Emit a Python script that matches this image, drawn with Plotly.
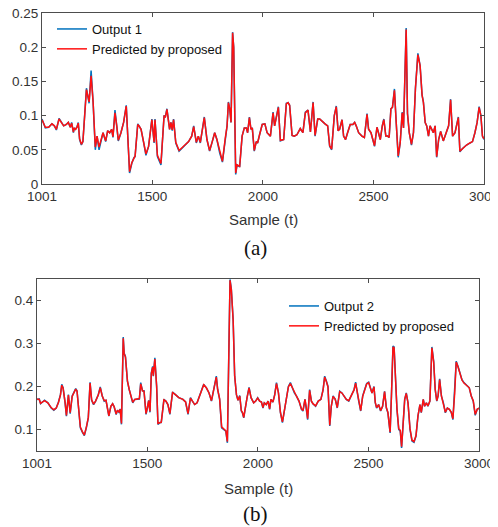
import plotly.graph_objects as go

# ---------------- data ----------------
sample_a = [1001,1016,1031,1046,1057,1066,1078,1088,1099,1111,
            1120,1129,1135,1143,1147,1153,1159,1165,1171,1179,
            1186,1202,1206,1214,1223,1232,1242,1250,1259,1268,
            1277,1289,1298,1307,1316,1322,1331,1339,1346,1358,
            1370,1382,1388,1397,1407,1416,1422,1434,1440,1449,
            1461,1471,1483,1498,1508,1512,1523,1530,1539,1553,
            1559,1566,1572,1578,1584,1590,1596,1606,1621,1642,
            1664,1678,1687,1699,1708,1717,1726,1735,1747,1759,
            1771,1782,1792,1805,1817,1829,1838,1844,1850,1856,
            1863,1868,1877,1883,1895,1906,1916,1925,1931,1939,
            1946,1952,1961,1970,1976,1985,1997,2009,2019,2034,
            2046,2053,2070,2079,2094,2106,2114,2121,2132,2142,
            2154,2169,2181,2192,2204,2215,2227,2236,2248,2257,
            2266,2281,2293,2302,2311,2323,2332,2340,2347,2358,
            2365,2374,2383,2395,2407,2415,2422,2433,2448,2459,
            2471,2478,2489,2498,2505,2516,2525,2531,2540,2547,
            2556,2564,2571,2579,2586,2595,2603,2612,2621,2630,
            2636,2648,2654,2662,2672,2681,2690,2701,2711,2720,
            2726,2734,2741,2749,2756,2764,2771,2779,2786,2795,
            2804,2816,2831,2840,2849,2858,2869,2876,2884,2891,
            2903,2921,2936,2948,2959,2969,2978,2986,2993,3000]

output1 = [0.095,0.082,0.083,0.088,0.085,0.079,0.096,0.09,0.085,0.087,
           0.09,0.083,0.09,0.075,0.082,0.08,0.083,0.09,0.065,0.057,
           0.062,0.14,0.132,0.118,0.166,0.12,0.05,0.07,0.05,0.065,
           0.075,0.062,0.078,0.075,0.08,0.068,0.108,0.085,0.063,0.075,
           0.09,0.115,0.07,0.016,0.03,0.038,0.04,0.088,0.085,0.08,
           0.06,0.042,0.055,0.095,0.06,0.095,0.04,0.035,0.028,0.1,
           0.098,0.11,0.095,0.08,0.09,0.078,0.095,0.06,0.048,0.055,
           0.062,0.07,0.085,0.06,0.07,0.06,0.078,0.098,0.065,0.048,
           0.062,0.075,0.065,0.045,0.032,0.065,0.085,0.12,0.11,0.09,
           0.222,0.2,0.014,0.028,0.025,0.07,0.082,0.082,0.075,0.098,
           0.08,0.082,0.048,0.062,0.06,0.072,0.087,0.088,0.075,0.07,
           0.105,0.085,0.113,0.063,0.065,0.118,0.119,0.115,0.071,0.07,
           0.072,0.081,0.075,0.105,0.108,0.076,0.12,0.07,0.095,0.095,
           0.092,0.088,0.085,0.055,0.05,0.1,0.114,0.078,0.08,0.094,
           0.07,0.065,0.075,0.087,0.087,0.09,0.085,0.075,0.07,0.068,
           0.103,0.08,0.075,0.065,0.055,0.083,0.07,0.065,0.085,0.095,
           0.07,0.07,0.068,0.11,0.112,0.139,0.09,0.039,0.06,0.105,
           0.082,0.228,0.103,0.075,0.057,0.075,0.14,0.191,0.173,0.13,
           0.12,0.09,0.085,0.07,0.085,0.08,0.075,0.085,0.039,0.065,
           0.077,0.063,0.075,0.085,0.124,0.07,0.075,0.085,0.098,0.047,
           0.052,0.057,0.06,0.062,0.075,0.09,0.113,0.1,0.07,0.065]

predicted1 = [0.094,0.083,0.083,0.088,0.085,0.08,0.095,0.09,0.085,0.087,
              0.09,0.083,0.089,0.076,0.082,0.08,0.083,0.089,0.066,0.058,
              0.062,0.138,0.131,0.12,0.158,0.12,0.054,0.07,0.054,0.065,
              0.075,0.063,0.078,0.075,0.08,0.069,0.104,0.085,0.064,0.075,
              0.09,0.114,0.071,0.018,0.031,0.038,0.041,0.087,0.085,0.08,
              0.061,0.044,0.055,0.094,0.061,0.094,0.042,0.036,0.03,0.099,
              0.098,0.109,0.095,0.08,0.09,0.079,0.094,0.061,0.049,0.055,
              0.062,0.07,0.084,0.061,0.07,0.061,0.078,0.097,0.065,0.049,
              0.062,0.075,0.065,0.046,0.033,0.065,0.085,0.119,0.11,0.09,
              0.221,0.2,0.016,0.028,0.026,0.07,0.082,0.082,0.075,0.097,
              0.08,0.082,0.049,0.062,0.06,0.072,0.087,0.088,0.075,0.07,
              0.104,0.085,0.112,0.064,0.065,0.117,0.119,0.115,0.071,0.07,
              0.072,0.081,0.075,0.104,0.108,0.076,0.119,0.071,0.095,0.095,
              0.092,0.088,0.085,0.056,0.051,0.1,0.113,0.078,0.08,0.094,
              0.07,0.065,0.075,0.087,0.087,0.09,0.085,0.075,0.07,0.068,
              0.102,0.08,0.075,0.065,0.056,0.083,0.07,0.065,0.085,0.094,
              0.07,0.07,0.068,0.11,0.112,0.137,0.09,0.041,0.06,0.104,
              0.082,0.226,0.103,0.075,0.058,0.075,0.14,0.189,0.173,0.13,
              0.119,0.09,0.085,0.07,0.085,0.08,0.075,0.085,0.04,0.065,
              0.077,0.063,0.075,0.085,0.123,0.07,0.075,0.085,0.097,0.048,
              0.052,0.057,0.06,0.062,0.075,0.09,0.112,0.1,0.07,0.066]

sample_b = [1001,1011,1017,1028,1035,1050,1065,1077,1088,1098,
            1107,1113,1119,1128,1134,1143,1151,1160,1167,1176,
            1182,1191,1197,1206,1215,1224,1233,1241,1248,1257,
            1266,1278,1287,1296,1305,1313,1320,1326,1335,1343,
            1350,1359,1365,1373,1377,1383,1391,1395,1401,1410,
            1418,1425,1434,1443,1455,1464,1470,1478,1485,1494,
            1500,1506,1512,1518,1524,1527,1534,1542,1548,1557,
            1563,1575,1584,1593,1602,1608,1614,1627,1642,1661,
            1673,1684,1695,1704,1714,1725,1737,1746,1755,1767,
            1779,1790,1797,1806,1812,1818,1827,1836,1845,1855,
            1862,1870,1874,1880,1888,1895,1903,1910,1918,1925,
            1930,1936,1942,1951,1960,1969,1981,1990,1999,2008,
            2016,2023,2029,2038,2046,2053,2059,2068,2076,2084,
            2093,2102,2111,2120,2129,2138,2147,2156,2165,2174,
            2186,2197,2204,2213,2219,2225,2234,2242,2249,2261,
            2273,2285,2295,2302,2310,2317,2325,2332,2340,2350,
            2359,2370,2380,2389,2400,2411,2423,2435,2442,2448,
            2456,2465,2474,2483,2492,2501,2507,2516,2525,2531,
            2537,2546,2555,2564,2573,2581,2588,2593,2598,2604,
            2611,2616,2622,2629,2637,2644,2650,2658,2664,2671,
            2679,2688,2697,2706,2715,2724,2733,2739,2748,2754,
            2762,2769,2778,2787,2795,2802,2809,2815,2822,2830,
            2839,2848,2857,2866,2875,2882,2890,2897,2905,2914,
            2923,2932,2944,2956,2965,2974,2983,2992,3000]

output2 = [0.17,0.171,0.16,0.164,0.168,0.162,0.15,0.145,0.15,0.164,
           0.181,0.205,0.197,0.162,0.131,0.181,0.137,0.178,0.185,0.195,
           0.19,0.147,0.104,0.094,0.086,0.104,0.127,0.21,0.168,0.158,
           0.166,0.181,0.199,0.178,0.166,0.168,0.15,0.131,0.154,0.16,
           0.153,0.135,0.145,0.139,0.148,0.112,0.315,0.278,0.27,0.212,
           0.193,0.181,0.162,0.17,0.171,0.171,0.209,0.19,0.19,0.135,
           0.15,0.168,0.14,0.232,0.247,0.224,0.267,0.2,0.112,0.116,
           0.116,0.17,0.166,0.158,0.135,0.162,0.187,0.181,0.174,0.17,
           0.164,0.135,0.174,0.166,0.158,0.162,0.178,0.193,0.205,0.197,
           0.185,0.166,0.185,0.21,0.224,0.193,0.17,0.104,0.1,0.096,
           0.069,0.302,0.449,0.426,0.356,0.224,0.181,0.168,0.179,0.143,
           0.139,0.127,0.15,0.174,0.198,0.174,0.162,0.166,0.174,0.166,
           0.164,0.15,0.162,0.158,0.166,0.147,0.17,0.164,0.181,0.209,
           0.185,0.139,0.116,0.147,0.178,0.2,0.209,0.197,0.185,0.178,
           0.166,0.147,0.143,0.17,0.15,0.123,0.193,0.166,0.16,0.154,
           0.166,0.17,0.193,0.224,0.212,0.2,0.108,0.154,0.178,0.17,
           0.15,0.189,0.185,0.178,0.17,0.166,0.178,0.193,0.21,0.189,
           0.166,0.143,0.178,0.193,0.207,0.21,0.2,0.185,0.2,0.162,
           0.15,0.158,0.143,0.154,0.189,0.15,0.139,0.116,0.092,0.178,
           0.294,0.292,0.224,0.147,0.1,0.096,0.057,0.131,0.17,0.185,
           0.162,0.1,0.073,0.07,0.084,0.131,0.158,0.139,0.17,0.154,
           0.162,0.154,0.166,0.292,0.259,0.193,0.166,0.178,0.218,0.178,
           0.162,0.139,0.15,0.147,0.139,0.123,0.185,0.259,0.247,0.232,
           0.216,0.209,0.202,0.197,0.178,0.166,0.133,0.147,0.15]

predicted2 = [0.171,0.17,0.161,0.164,0.167,0.162,0.151,0.146,0.15,0.163,
              0.18,0.203,0.196,0.163,0.133,0.18,0.139,0.177,0.184,0.194,
              0.189,0.148,0.106,0.095,0.087,0.105,0.128,0.208,0.169,0.159,
              0.166,0.18,0.197,0.178,0.167,0.168,0.151,0.132,0.154,0.16,
              0.153,0.136,0.145,0.14,0.147,0.114,0.312,0.277,0.268,0.213,
              0.193,0.181,0.163,0.17,0.171,0.172,0.206,0.19,0.189,0.137,
              0.15,0.167,0.142,0.23,0.245,0.225,0.264,0.201,0.114,0.117,
              0.117,0.169,0.166,0.158,0.137,0.162,0.186,0.181,0.174,0.17,
              0.164,0.137,0.173,0.166,0.158,0.162,0.178,0.192,0.204,0.197,
              0.185,0.167,0.184,0.208,0.222,0.193,0.171,0.106,0.101,0.097,
              0.072,0.3,0.447,0.424,0.355,0.225,0.181,0.168,0.178,0.144,
              0.14,0.128,0.15,0.174,0.197,0.174,0.162,0.166,0.173,0.166,
              0.164,0.151,0.162,0.158,0.166,0.148,0.17,0.164,0.18,0.207,
              0.185,0.14,0.118,0.148,0.178,0.199,0.207,0.197,0.185,0.178,
              0.166,0.148,0.144,0.17,0.151,0.125,0.191,0.166,0.16,0.155,
              0.166,0.17,0.192,0.222,0.211,0.199,0.11,0.154,0.177,0.17,
              0.151,0.188,0.185,0.178,0.17,0.167,0.178,0.192,0.208,0.189,
              0.166,0.144,0.177,0.192,0.206,0.209,0.2,0.185,0.199,0.163,
              0.151,0.158,0.144,0.154,0.188,0.151,0.14,0.118,0.094,0.177,
              0.292,0.29,0.224,0.148,0.102,0.098,0.06,0.132,0.17,0.184,
              0.162,0.102,0.075,0.072,0.086,0.132,0.158,0.14,0.17,0.154,
              0.162,0.155,0.166,0.29,0.257,0.193,0.167,0.178,0.216,0.178,
              0.162,0.14,0.15,0.147,0.14,0.125,0.184,0.257,0.246,0.231,
              0.215,0.208,0.202,0.197,0.178,0.167,0.135,0.147,0.15]

x_ticks = [1001, 1500, 2000, 2500, 3000]
y_ticks_a = [0, 0.05, 0.1, 0.15, 0.2, 0.25]
y_ticks_b = [0.1, 0.2, 0.3, 0.4]

# ---------------- figure ----------------
# The page body keeps its default 8px margin, so the figure is made 8px
# smaller and all layout positions (given in window pixels) are offset.
OFF = 8
W, H = 498 - OFF, 527 - OFF
BLUE = "#0072BD"
RED = "#FF1010"
AX = "#4d4d4d"
TXT = "#333333"
FONT = "Liberation Sans, Arial, Helvetica, sans-serif"
SERIF = "Liberation Serif, Times New Roman, serif"
EPS_X = 0.05      # tiny range padding so the edge tick labels are kept
EPS_Y = 1e-5

def px_x(p):
    return (p - OFF) / W

def px_y(p):
    return 1 - (p - OFF) / H

fig = go.Figure()
fig.add_trace(go.Scatter(x=sample_a, y=output1, mode="lines", name="Output 1",
                         line=dict(color=BLUE, width=1.5), xaxis="x", yaxis="y",
                         legend="legend"))
fig.add_trace(go.Scatter(x=sample_a, y=predicted1, mode="lines", name="Predicted by proposed",
                         line=dict(color=RED, width=1.5), xaxis="x", yaxis="y",
                         legend="legend"))
fig.add_trace(go.Scatter(x=sample_b, y=output2, mode="lines", name="Output 2",
                         line=dict(color=BLUE, width=1.5), xaxis="x2", yaxis="y2",
                         legend="legend2"))
fig.add_trace(go.Scatter(x=sample_b, y=predicted2, mode="lines", name="Predicted by proposed",
                         line=dict(color=RED, width=1.5), xaxis="x2", yaxis="y2",
                         legend="legend2"))

axis_common = dict(showgrid=False, zeroline=False, showline=True, linecolor=AX,
                   linewidth=1, mirror="ticks", ticks="inside", ticklen=4,
                   tickcolor=AX, tickwidth=1, automargin=False,
                   ticklabeloverflow="allow",
                   tickfont=dict(family=FONT, size=13.5, color=TXT))

legend_common = dict(xanchor="left", yanchor="top", bgcolor="rgba(0,0,0,0)",
                     borderwidth=0, tracegroupgap=0,
                     font=dict(family=FONT, size=13, color="#111111"))

fig.update_layout(
    template="none",
    width=W, height=H,
    margin=dict(l=0, r=0, t=0, b=0, pad=0, autoexpand=False),
    paper_bgcolor="white", plot_bgcolor="white",
    font=dict(family=FONT, color=TXT),
    xaxis=dict(domain=[px_x(42), px_x(484)], range=[1001 - EPS_X, 3000 + EPS_X], anchor="y",
               tickvals=x_ticks, ticktext=[str(v) for v in x_ticks], **axis_common),
    yaxis=dict(domain=[px_y(184), px_y(13)], range=[0 - EPS_Y, 0.25 + EPS_Y], anchor="x",
               tickvals=y_ticks_a, ticktext=["0", "0.05", "0.1", "0.15", "0.2", "0.25"],
               **axis_common),
    xaxis2=dict(domain=[px_x(37), px_x(479)], range=[1001 - EPS_X, 3000 + EPS_X], anchor="y2",
                tickvals=x_ticks, ticktext=[str(v) for v in x_ticks], **axis_common),
    yaxis2=dict(domain=[px_y(451), px_y(279)], range=[0.05, 0.45], anchor="x2",
                tickvals=y_ticks_b, ticktext=["0.1", "0.2", "0.3", "0.4"], **axis_common),
    legend=dict(x=px_x(52), y=px_y(14), **legend_common),
    legend2=dict(x=px_x(284), y=px_y(291), **legend_common),
    showlegend=True,
)

annotations = [
    dict(text="Sample (t)", x=px_x(263), y=px_y(220), font=dict(family=FONT, size=15, color=TXT)),
    dict(text="(a)", x=px_x(256), y=px_y(248), font=dict(family=SERIF, size=21, color="#111111")),
    dict(text="Sample (t)", x=px_x(258), y=px_y(488), font=dict(family=FONT, size=15, color=TXT)),
    dict(text="(b)", x=px_x(255), y=px_y(514), font=dict(family=SERIF, size=21, color="#111111")),
]
for a in annotations:
    fig.add_annotation(xref="paper", yref="paper", xanchor="center", yanchor="middle",
                       showarrow=False, **a)

fig.write_html("out.html")
